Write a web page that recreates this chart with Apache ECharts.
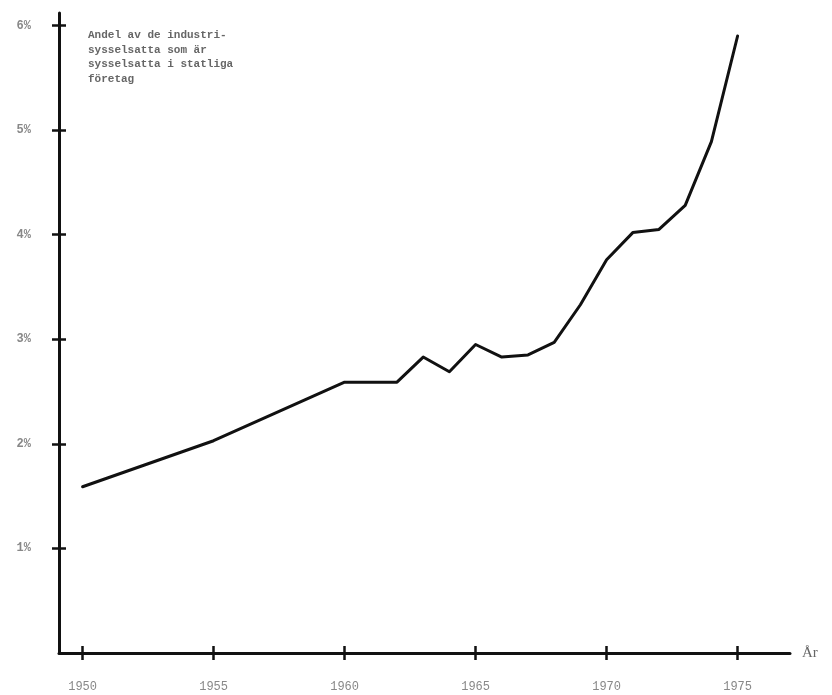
<!DOCTYPE html>
<html>
<head>
<meta charset="utf-8">
<script src="https://cdn.jsdelivr.net/npm/echarts@6/dist/echarts.min.js"></script>
<style>
html,body{margin:0;padding:0;background:#fff;}
#c{width:832px;height:695px;}
</style>
</head>
<body>
<div id="c"></div>
<script>
const years  = [1950, 1955, 1960, 1961, 1962, 1963, 1964, 1965, 1966, 1967, 1968, 1969, 1970, 1971, 1972, 1973, 1974, 1975];
const shares = [1.59, 2.03, 2.59, 2.59, 2.59, 2.83, 2.69, 2.95, 2.83, 2.85, 2.97, 3.33, 3.76, 4.02, 4.05, 4.28, 4.89, 5.90];
const xTicks = [1950, 1955, 1960, 1965, 1970, 1975];
const yTicks = [1, 2, 3, 4, 5, 6];
const noteText = 'Andel av de industri-\nsysselsatta som är\nsysselsatta i statliga\nföretag';
const axisName = 'År';

const chart = echarts.init(document.getElementById('c'), null, {renderer: 'canvas'});
const mono = '"Liberation Mono", "DejaVu Sans Mono", monospace';
const xMin = 1949.1, xMax = 1977.0, yMin = 0, yMax = 6.12;

const baseX = {
  type: 'value', min: xMin, max: xMax, position: 'bottom',
  splitLine: {show: false}
};
const baseY = {
  type: 'value', min: yMin, max: yMax, position: 'left',
  splitLine: {show: false}
};

chart.setOption({
  animation: false,
  backgroundColor: '#ffffff',
  grid: {left: 59, right: 42, top: 13, bottom: 42},
  graphic: [{
    type: 'text', left: 88, top: 28,
    style: {text: noteText, font: 'bold 11px ' + mono, fill: '#666', lineHeight: 14.5}
  }],
  xAxis: [
    Object.assign({}, baseX, {
      name: axisName, nameLocation: 'end', nameGap: 12,
      nameTextStyle: {color: '#666', fontFamily: 'Liberation Serif', fontSize: 15, verticalAlign: 'middle'},
      axisLine: {show: true, lineStyle: {color: '#111', width: 3}},
      axisTick: {show: true, inside: false, length: 7, customValues: xTicks, lineStyle: {color: '#111', width: 2.5}},
      axisLabel: {show: true, customValues: xTicks, margin: 28, color: '#888', fontFamily: mono, fontSize: 12,
                  formatter: v => String(Math.round(v))}
    }),
    Object.assign({}, baseX, {
      axisLine: {show: false},
      axisTick: {show: true, inside: true, length: 7, customValues: xTicks, lineStyle: {color: '#111', width: 2.5}},
      axisLabel: {show: false}
    })
  ],
  yAxis: [
    Object.assign({}, baseY, {
      axisLine: {show: true, lineStyle: {color: '#111', width: 3}},
      axisTick: {show: true, inside: false, length: 7, customValues: yTicks, lineStyle: {color: '#111', width: 2.5}},
      axisLabel: {show: true, customValues: yTicks, margin: 28, color: '#888', fontFamily: mono, fontSize: 12,
                  fontWeight: 'bold', formatter: v => Math.round(v) + '%'}
    }),
    Object.assign({}, baseY, {
      axisLine: {show: false},
      axisTick: {show: true, inside: true, length: 7, customValues: yTicks, lineStyle: {color: '#111', width: 2.5}},
      axisLabel: {show: false}
    })
  ],
  series: [{
    type: 'line',
    xAxisIndex: 0, yAxisIndex: 0,
    data: years.map((y, i) => [y, shares[i]]),
    showSymbol: false,
    lineStyle: {color: '#111', width: 3, join: 'round', cap: 'round'},
    z: 5
  }]
});
</script>
</body>
</html>
